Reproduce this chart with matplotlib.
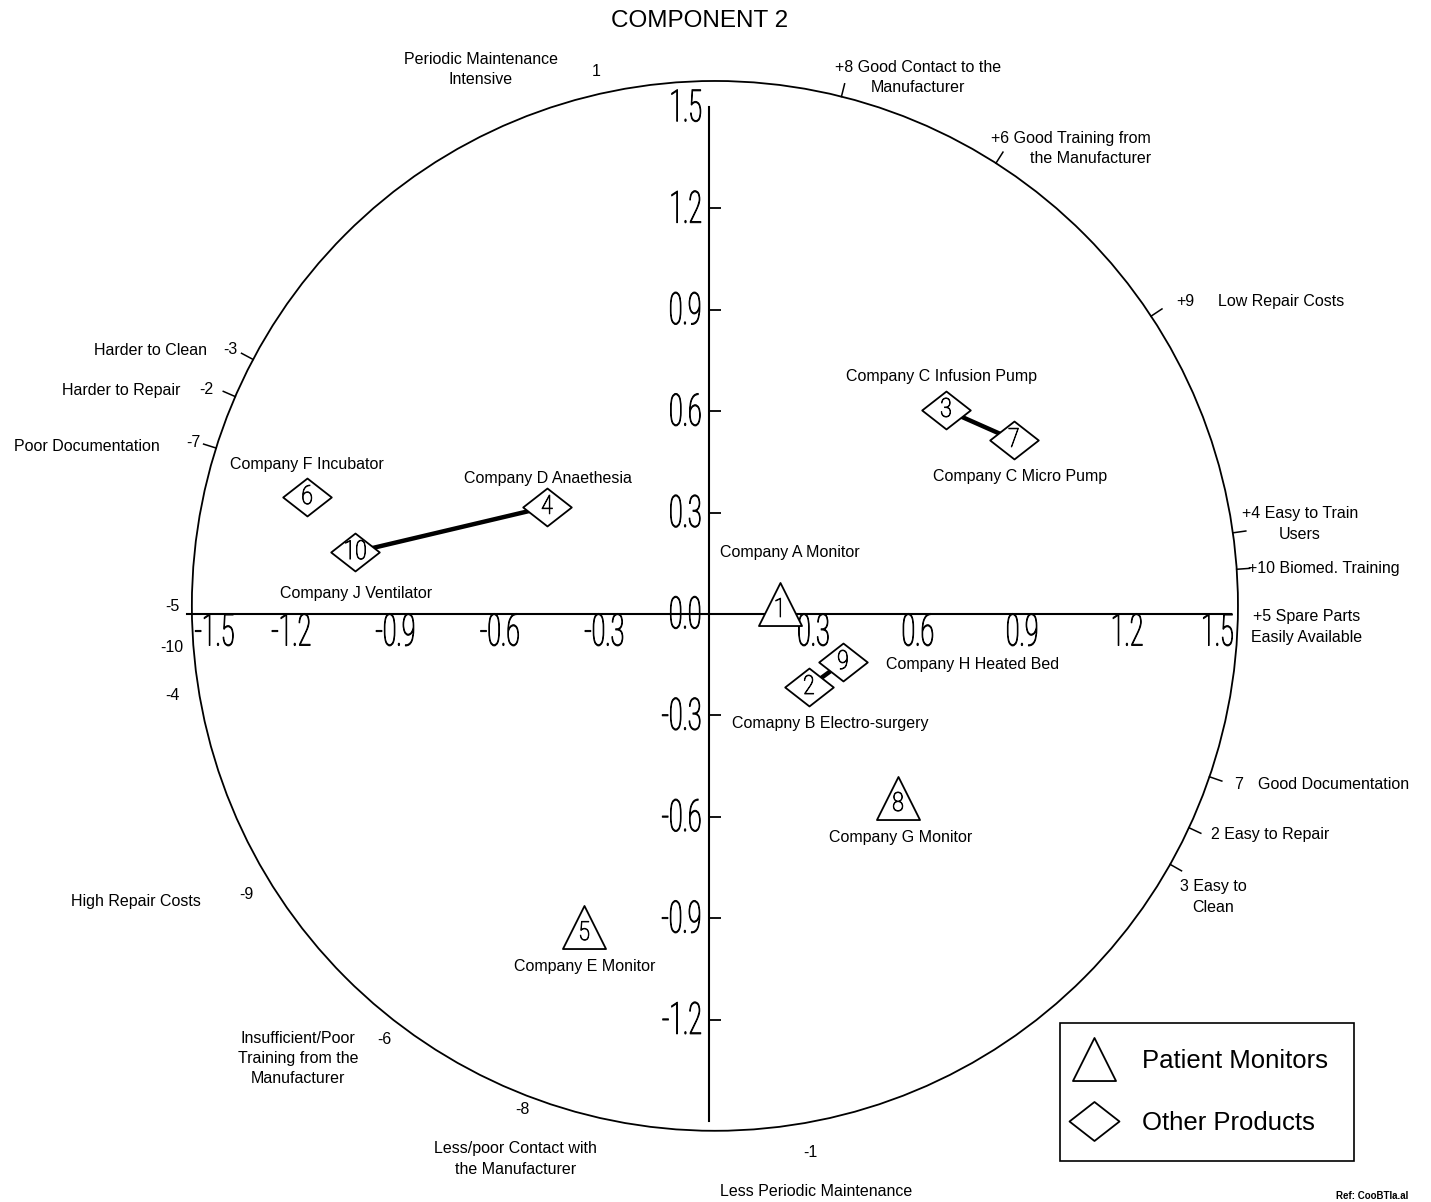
import numpy as np
import matplotlib
matplotlib.use('Agg')
import matplotlib.pyplot as plt
from matplotlib.path import Path
from matplotlib.patches import Ellipse
from matplotlib.lines import Line2D
from matplotlib.transforms import Affine2D
from matplotlib.patheffects import AbstractPathEffect

# Product scores on the first two principal components
product_ids = [1, 2, 3, 4, 5, 6, 7, 8, 9, 10]
comp1 = [0.204, 0.287, 0.681, -0.466, -0.359, -1.155, 0.876, 0.543, 0.385, -1.017]
comp2 = [0.030, -0.216, 0.604, 0.317, -0.926, 0.346, 0.515, -0.544, -0.142, 0.183]
is_monitor = [True, False, False, False, True, False, False, True, False, False]
linked = [(3, 7), (10, 4), (2, 9)]

product_names = ['Company A Monitor', 'Comapny B Electro-surgery', 'Company C Infusion Pump',
                 'Company D Anaethesia', 'Company E Monitor', 'Company F Incubator',
                 'Company C Micro Pump', 'Company G Monitor', 'Company H Heated Bed',
                 'Company J Ventilator']
name_pos = [(0.233, 0.183), (0.348, -0.325), (0.667, 0.704), (-0.463, 0.402),
            (-0.356, -1.044), (-1.155, 0.441), (0.894, 0.408), (0.552, -0.660),
            (0.756, -0.148), (-1.014, 0.062)]

x_ticks = [-1.5, -1.2, -0.9, -0.6, -0.3, 0.3, 0.6, 0.9, 1.2, 1.5]
y_ticks = [1.5, 1.2, 0.9, 0.6, 0.3, 0.0, -0.3, -0.6, -0.9, -1.2]

# attribute markers on the rim (angle in degrees)
rim_angles = [76, 57.5, 33.5, 8, 4, -19, -25, -29.5, 152, 156.5, 162.5]

# attribute texts around the circle: text, x, y, ha
rim_labels = [
    ('Periodic Maintenance\nIntensive', -0.655, 1.611, 'center'),
    ('1', -0.325, 1.604, 'center'),
    ('+8 Good Contact to the\nManufacturer', 0.601, 1.587, 'center'),
    ('+6 Good Training from\nthe Manufacturer', 1.270, 1.377, 'right'),
    ('+9', 1.342, 0.926, 'left'),
    ('Low Repair Costs', 1.463, 0.926, 'left'),
    ('+4 Easy to Train\nUsers', 1.698, 0.266, 'center'),
    ('+10 Biomed. Training', 1.549, 0.136, 'left'),
    ('+5 Spare Parts\nEasily Available', 1.716, -0.038, 'center'),
    ('7', 1.510, -0.503, 'left'),
    ('Good Documentation', 1.578, -0.503, 'left'),
    ('2 Easy to Repair', 1.443, -0.651, 'left'),
    ('3 Easy to\nClean', 1.448, -0.837, 'center'),
    ('-1', 0.290, -1.592, 'center'),
    ('Less Periodic Maintenance', 0.307, -1.710, 'center'),
    ('-8', -0.537, -1.467, 'center'),
    ('Less/poor Contact with\nthe Manufacturer', -0.557, -1.612, 'center'),
    ('Insufficient/Poor\nTraining from the\nManufacturer', -1.181, -1.315, 'center'),
    ('-6', -0.934, -1.260, 'center'),
    ('High Repair Costs', -1.460, -0.852, 'right'),
    ('-9', -1.330, -0.831, 'center'),
    ('-4', -1.543, -0.240, 'center'),
    ('-10', -1.543, -0.098, 'center'),
    ('-5', -1.543, 0.021, 'center'),
    ('Poor Documentation', -1.578, 0.497, 'right'),
    ('-7', -1.483, 0.506, 'center'),
    ('Harder to Repair', -1.520, 0.660, 'right'),
    ('-2', -1.445, 0.663, 'center'),
    ('Harder to Clean', -1.443, 0.781, 'right'),
    ('-3', -1.374, 0.784, 'center'),
]


class Squeeze(AbstractPathEffect):
    """Narrow the glyphs horizontally around an anchor of the text ink,
    optionally outlining them to even out the stroke weight."""

    def __init__(self, sx=0.55, anchor='center', lw=0.0):
        super().__init__()
        self.sx = sx
        self.anchor = anchor
        self.lw = lw

    def draw_path(self, renderer, gc, tpath, affine, rgbFace=None):
        ext = tpath.get_extents(affine)
        if self.anchor == 'left':
            x = ext.x0
        elif self.anchor == 'right':
            x = ext.x1
        else:
            x = 0.5 * (ext.x0 + ext.x1)
        squeeze = Affine2D().translate(-x, 0).scale(self.sx, 1).translate(x, 0)
        gc0 = renderer.new_gc()
        gc0.copy_properties(gc)
        gc0.set_linewidth(self.lw)
        renderer.draw_path(gc0, tpath, affine + squeeze, rgbFace)
        gc0.restore()


diamond = Path([(-1, 0), (0, 0.78), (1, 0), (0, -0.78), (-1, 0)], closed=True)
triangle = Path([(-1, -1), (0, 1), (1, -1), (-1, -1)], closed=True)

small = dict(family='Liberation Sans', fontsize=11.5, color='black')
big_num = dict(family='Roboto', weight='light', fontsize=32, color='black')

fig = plt.figure(figsize=(14.31, 12.02), dpi=100)
ax = fig.add_axes([0, 0, 1, 1])
ax.set_xlim(-709 / 348, (1431 - 709) / 348)
ax.set_ylim((614 - 1202) / 338, 614 / 338)
ax.axis('off')

# outer circle and its attribute ticks
cx, cy, rx, ry = 0.017, 0.024, 1.503, 1.553
ax.add_patch(Ellipse((cx, cy), 2 * rx, 2 * ry, fill=False, lw=1.3, ec='black'))
for a in rim_angles:
    t = np.radians(a)
    r = np.array([1.0, 1.025])
    ax.plot(cx + rx * r * np.cos(t), cy + ry * r * np.sin(t), color='black', lw=1.1)

# axes through the origin
ax.plot([-1.5, 1.5], [0, 0], color='black', lw=1.5)
ax.plot([0, 0], [-1.5, 1.5], color='black', lw=1.5)
ax.hlines([t for t in y_ticks if t not in (0.0, 1.5)], 0, 0.035, color='black', lw=1.3)

for t in x_ticks:
    if t == -1.5:
        x, ha = -1.48, 'left'
    elif t == 1.5:
        x, ha = 1.51, 'right'
    else:
        x, ha = t, 'center'
    ax.text(x, 0.006, f'{t:.1f}', ha=ha, va='top', **big_num,
            path_effects=[Squeeze(0.56, ha, 0.7)])
for t in y_ticks:
    ax.text(-0.018, t - 0.006, f'{t:.1f}', ha='right', va='center', **big_num,
            path_effects=[Squeeze(0.56, 'right', 0.7)])

# connecting lines between related products
for a, b in linked:
    i, j = product_ids.index(a), product_ids.index(b)
    ax.plot([comp1[i], comp1[j]], [comp2[i], comp2[j]], color='black', lw=3.2,
            solid_capstyle='butt', zorder=3)

# product markers with their numbers
for pid, x, y, mon in zip(product_ids, comp1, comp2, is_monitor):
    ax.plot(x, y, marker=triangle if mon else diamond, ms=31 if mon else 35,
            mfc='white', mec='black', mew=1.3, ls='none', zorder=4)
    dy = -0.018 if mon else 0.0
    ax.text(x, y + dy, str(pid), ha='center', va='center', zorder=5,
            family='Roboto', weight='light', fontsize=19,
            path_effects=[Squeeze(0.8, 'center', 0.6)])

for name, (x, y) in zip(product_names, name_pos):
    ax.text(x, y, name, ha='center', va='center', **small)

for text, x, y, ha in rim_labels:
    ax.text(x, y, text, ha=ha, va='center', multialignment=ha,
            linespacing=1.45, **small)

fig.text(700 / 1431, 1 - 21 / 1202, 'COMPONENT 2', ha='center', va='center',
         family='Liberation Sans', fontsize=17.5)
fig.text(1372 / 1431, 1 - 1196 / 1202, 'Ref: CooBTIa.al', ha='center', va='center',
         family='Liberation Sans', fontsize=7, weight='bold')

handles = [
    Line2D([], [], marker=triangle, ms=31, mfc='white', mec='black', mew=1.3, ls='none'),
    Line2D([], [], marker=diamond, ms=36, mfc='white', mec='black', mew=1.3, ls='none'),
]
leg = ax.legend(handles, ['Patient Monitors', 'Other Products'],
                loc='upper left', bbox_to_anchor=(1060 / 1431, 1 - 1023 / 1202),
                bbox_transform=fig.transFigure, borderaxespad=0,
                prop=dict(family='Liberation Sans', size=18.5),
                fancybox=False, frameon=True, framealpha=1, edgecolor='black',
                borderpad=1.0, labelspacing=1.5, handlelength=0.64,
                handletextpad=1.56)
leg.get_frame().set_linewidth(1.2)

fig.savefig('out.png', dpi=100, facecolor='white')
